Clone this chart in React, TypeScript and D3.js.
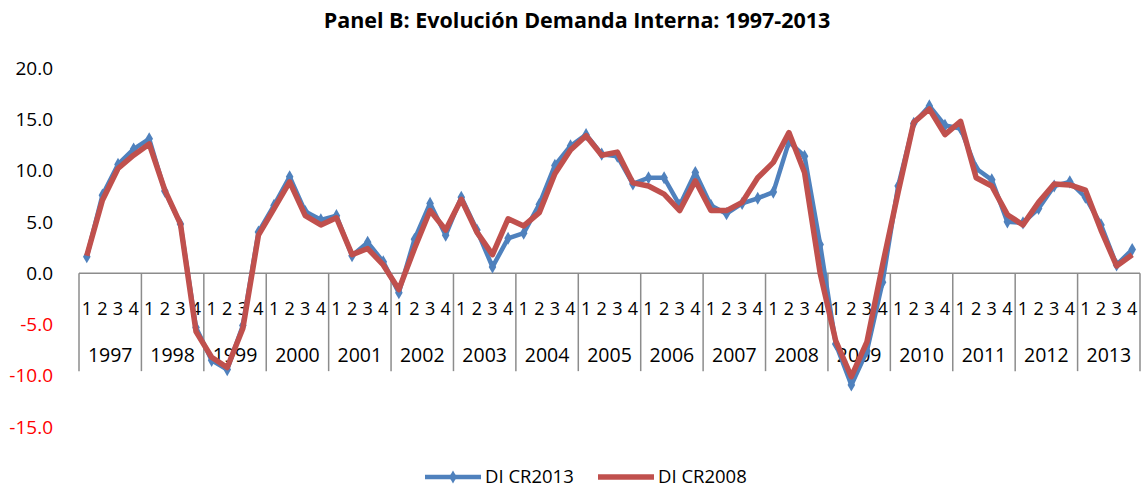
import React, { useEffect, useRef } from 'react';
import * as d3 from 'd3';

const years = ['1997', '1998', '1999', '2000', '2001', '2002', '2003', '2004', '2005',
  '2006', '2007', '2008', '2009', '2010', '2011', '2012', '2013'];
const quarters = ['1', '2', '3', '4'];
const yTicks = [20, 15, 10, 5, 0, -5, -10, -15];

// DI CR2013 (blue, with markers)
const diCR2013 = [
  1.6, 7.6, 10.6, 12.1, 13.1,
  8.0, 4.8, -5.3, -8.5, -9.4, -5.1, 4.0,
  6.6, 9.4, 6.0, 5.2, 5.6, 1.7, 3.0, 1.1,
  -1.9, 3.3, 6.8, 3.7, 7.4, 4.2, 0.6, 3.4,
  3.9, 6.7, 10.5, 12.4, 13.5, 11.6, 11.4, 8.7,
  9.3, 9.3, 6.6, 9.8, 6.6, 5.8, 6.8, 7.3,
  7.9, 12.8, 11.4, 2.8, -6.9, -10.9, -7.6, -0.9,
  8.5, 14.6, 16.3, 14.4, 14.1, 10.2, 9.1, 5.0,
  4.9, 6.3, 8.5, 8.9, 7.4, 4.7, 0.8, 2.3
];

// DI CR2008 (red)
const diCR2008 = [
  1.7, 7.1, 10.2, 11.5, 12.6,
  8.1, 4.8, -5.7, -8.2, -9.2, -5.4, 3.7,
  6.3, 8.9, 5.6, 4.7, 5.4, 1.8, 2.4, 0.8,
  -1.6, 2.4, 6.1, 4.2, 7.2, 4.0, 1.8, 5.3,
  4.6, 5.9, 9.7, 12.0, 13.4, 11.5, 11.8, 8.8,
  8.5, 7.7, 6.1, 9.0, 6.1, 6.1, 6.9, 9.3,
  10.8, 13.7, 9.8, 0.0, -6.6, -10.1, -6.7, 0.8,
  7.9, 14.7, 16.0, 13.5, 14.8, 9.3, 8.5, 5.7,
  4.7, 6.9, 8.7, 8.6, 8.1, 4.2, 0.7, 1.8
];

const FONT = '"Open Sans", "Liberation Sans", sans-serif';

export default function App() {
  const ref = useRef<SVGSVGElement>(null);

  useEffect(() => {
    const svg = d3.select(ref.current);
    svg.selectAll('*').remove();

    const left = 79, right = 1140, top = 68, bottom = 427;
    const n = years.length * quarters.length;

    const x = d3.scaleBand<number>()
      .domain(d3.range(n))
      .range([left, right])
      .padding(0);
    const y = d3.scaleLinear().domain([-15, 20]).range([bottom, top]);
    const cx = (i: number) => (x(i) as number) + x.bandwidth() / 2;

    // title
    svg.append('text')
      .attr('x', 577).attr('y', 20)
      .attr('dy', '0.35em')
      .attr('text-anchor', 'middle')
      .attr('font-family', FONT).attr('font-size', 21.5).attr('font-weight', 'bold')
      .text('Panel B: Evolución Demanda Interna: 1997-2013');

    // y axis labels
    svg.append('g').selectAll('text')
      .data(yTicks)
      .enter()
        .append('text')
        .attr('x', 53)
        .attr('y', d => y(d))
        .attr('dy', '0.35em')
        .attr('text-anchor', 'end')
        .attr('font-family', FONT).attr('font-size', 19)
        .attr('fill', d => d < 0 ? '#ff0000' : '#000')
        .text(d => d.toFixed(1));

    // category axis at zero
    const y0 = y(0);
    const axis = svg.append('g');
    axis.append('line')
      .attr('x1', left).attr('x2', right)
      .attr('y1', y0).attr('y2', y0)
      .attr('stroke', '#8c8c8c').attr('stroke-width', 1.5);
    const yearW = (right - left) / years.length;
    axis.selectAll('line.sep')
      .data(d3.range(years.length + 1))
      .enter()
        .append('line')
        .attr('class', 'sep')
        .attr('x1', i => left + i * yearW).attr('x2', i => left + i * yearW)
        .attr('y1', y0).attr('y2', y0 + 98)
        .attr('stroke', '#8c8c8c').attr('stroke-width', 1.5);
    axis.selectAll('text.q')
      .data(d3.range(n))
      .enter()
        .append('text')
        .attr('class', 'q')
        .attr('x', i => cx(i))
        .attr('y', y0 + 36)
        .attr('dy', '0.35em')
        .attr('text-anchor', 'middle')
        .attr('font-family', FONT).attr('font-size', 18)
        .text(i => quarters[i % 4]);
    axis.selectAll('text.yr')
      .data(years)
      .enter()
        .append('text')
        .attr('class', 'yr')
        .attr('x', (d, i) => left + (i + 0.5) * yearW)
        .attr('y', y0 + 82)
        .attr('dy', '0.35em')
        .attr('text-anchor', 'middle')
        .attr('font-family', FONT).attr('font-size', 19.5)
        .text(d => d);

    const line = d3.line<number>()
      .x((d, i) => cx(i))
      .y(d => y(d));

    const diamond = d3.symbol().type(d3.symbolDiamond).size(50);

    // blue series
    svg.append('path')
      .datum(diCR2013)
      .attr('d', line)
      .attr('fill', 'none')
      .attr('stroke', '#4f81bd')
      .attr('stroke-width', 4.5)
      .attr('stroke-linejoin', 'round');
    svg.append('g').selectAll('path')
      .data(diCR2013)
      .enter()
        .append('path')
        .attr('d', diamond)
        .attr('transform', (d, i) => 'translate(' + cx(i) + ',' + y(d) + ')')
        .attr('fill', '#4f81bd');

    // red series
    svg.append('path')
      .datum(diCR2008)
      .attr('d', line)
      .attr('fill', 'none')
      .attr('stroke', '#c0504d')
      .attr('stroke-width', 5.5)
      .attr('stroke-linejoin', 'round');

    // legend
    const ly = 477;
    const legend = svg.append('g');
    legend.append('line')
      .attr('x1', 425).attr('x2', 481).attr('y1', ly).attr('y2', ly)
      .attr('stroke', '#4f81bd').attr('stroke-width', 4.5);
    legend.append('path')
      .attr('d', diamond)
      .attr('transform', 'translate(453,' + ly + ')')
      .attr('fill', '#4f81bd');
    legend.append('text')
      .attr('x', 485).attr('y', ly).attr('dy', '0.35em')
      .attr('font-family', FONT).attr('font-size', 18.5)
      .text('DI CR2013');
    legend.append('line')
      .attr('x1', 598).attr('x2', 654).attr('y1', ly).attr('y2', ly)
      .attr('stroke', '#c0504d').attr('stroke-width', 5.5);
    legend.append('text')
      .attr('x', 658).attr('y', ly).attr('dy', '0.35em')
      .attr('font-family', FONT).attr('font-size', 18.5)
      .text('DI CR2008');
  }, []);

  return (
    <svg ref={ref} width={1142} height={489}
      style={{ position: 'absolute', left: 0, top: 0, background: '#fff' }} />
  );
}
